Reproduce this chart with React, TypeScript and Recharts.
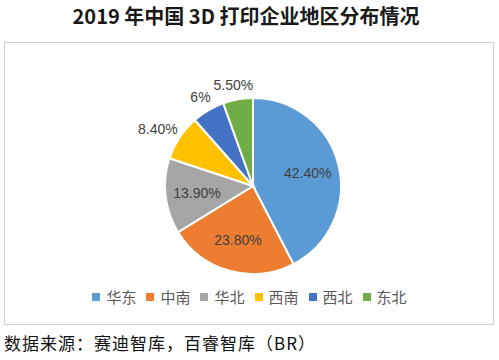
import { PieChart, Pie, Cell, Legend } from 'recharts'

const regions = ['华东', '中南', '华北', '西南', '西北', '东北']
const shares = [42.4, 23.8, 13.9, 8.4, 6, 5.5]
const shareLabels = ['42.40%', '23.80%', '13.90%', '8.40%', '6%', '5.50%']
const colors = ['#5B9BD5', '#ED7D31', '#A5A5A5', '#FFC000', '#4472C4', '#70AD47']

const RAD = Math.PI / 180

function renderLabel(props: any) {
  const { cx, cy, midAngle, outerRadius, index } = props
  const text = shareLabels[index]
  const cos = Math.cos(-midAngle * RAD)
  const sin = Math.sin(-midAngle * RAD)
  let x: number
  let y: number
  if (index < 3) {
    // big slices: label sits inside
    x = cx + outerRadius * 0.64 * cos
    y = cy + outerRadius * 0.64 * sin
  } else {
    // small slices: label outside, nudged by half its box
    const halfW = text.length * 3.6
    x = cx + (outerRadius + 8) * cos + cos * halfW
    y = cy + (outerRadius + 8) * sin + sin * 7
  }
  return (
    <text
      x={x}
      y={y}
      fill="#404040"
      fontSize={14}
      fontFamily="'Liberation Sans', Arial, sans-serif"
      textAnchor="middle"
      dominantBaseline="central"
    >
      {text}
    </text>
  )
}

function LegendRow() {
  return (
    <div style={{ display: 'flex', justifyContent: 'center', alignItems: 'center', fontSize: 15, color: '#595959' }}>
      {regions.map((r, i) => (
        <span key={r} style={{ display: 'inline-flex', alignItems: 'center', marginRight: i < regions.length - 1 ? 10 : 0 }}>
          <span style={{ width: 8, height: 8, background: colors[i], display: 'inline-block', marginRight: 6 }} />
          {r}
        </span>
      ))}
    </div>
  )
}

export default function App() {
  const data = regions.map((name, i) => ({ name, value: shares[i] }))

  return (
    <div style={{ position: 'absolute', left: 0, top: 0, width: 499, height: 360, background: '#fff', fontFamily: "'Noto Sans CJK SC', sans-serif" }}>
      <div style={{ position: 'absolute', left: 0, top: 3, width: 492, textAlign: 'center', fontSize: 20, fontWeight: 'bold', color: '#1a1a1a', lineHeight: '26px' }}>
        2019 年中国 3D 打印企业地区分布情况
      </div>
      <div style={{ position: 'absolute', left: 4, top: 42, width: 488, height: 281, border: '1px solid #d0d0d0' }} />
      <div style={{ position: 'absolute', left: 0, top: 0 }}>
        <PieChart width={499} height={360}>
          <Pie
            data={data}
            dataKey="value"
            nameKey="name"
            cx={248}
            cy={160}
            outerRadius={88}
            startAngle={90}
            endAngle={-270}
            stroke="#fff"
            strokeWidth={2}
            label={renderLabel}
            labelLine={false}
            isAnimationActive={false}
          >
            {data.map((d, i) => (
              <Cell key={d.name} fill={colors[i]} />
            ))}
          </Pie>
          <Legend
            verticalAlign="top"
            align="center"
            wrapperStyle={{ top: 286, left: 0, width: 499 }}
            content={() => <LegendRow />}
          />
        </PieChart>
      </div>
      <div style={{ position: 'absolute', left: 4, top: 331, fontSize: 17, letterSpacing: 1, color: '#111', lineHeight: '24px', whiteSpace: 'nowrap' }}>
        数据来源：赛迪智库，百睿智库（BR）
      </div>
    </div>
  )
}
